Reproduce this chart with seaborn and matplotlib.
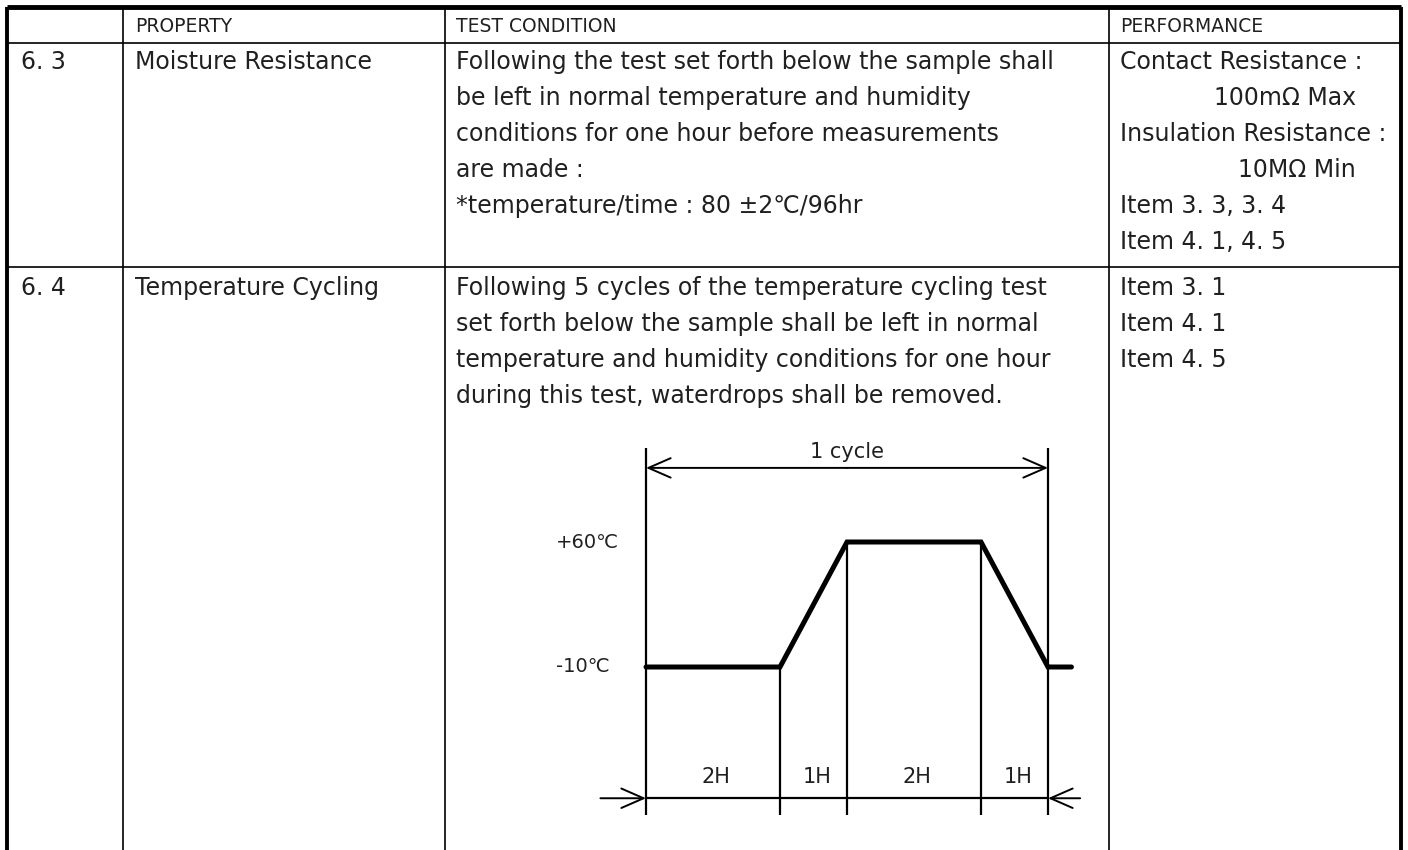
import matplotlib
matplotlib.use("Agg")
import matplotlib.pyplot as plt
import numpy as np
import pandas as pd
import seaborn as sns

# table content
header = ["", "PROPERTY", "TEST CONDITION", "PERFORMANCE"]
row_ids = ["6. 3", "6. 4"]
properties = ["Moisture Resistance", "Temperature Cycling"]
conditions_63 = [
    "Following the test set forth below the sample shall",
    "be left in normal temperature and humidity",
    "conditions for one hour before measurements",
    "are made :",
    "*temperature/time : 80 \u00b12\u2103/96hr",
]
performance_63 = [
    "Contact Resistance :",
    "100m\u03a9 Max",
    "Insulation Resistance :",
    "10M\u03a9 Min",
    "Item 3. 3, 3. 4",
    "Item 4. 1, 4. 5",
]
performance_63_indent = [False, True, False, True, False, False]
conditions_64 = [
    "Following 5 cycles of the temperature cycling test",
    "set forth below the sample shall be left in normal",
    "temperature and humidity conditions for one hour",
    "during this test, waterdrops shall be removed.",
]
performance_64 = ["Item 3. 1", "Item 4. 1", "Item 4. 5"]

# temperature cycle profile
phase_hours = [2, 1, 2, 1]
phase_labels = ["2H", "1H", "2H", "1H"]
low_temp = -10
high_temp = 60
phase_temps = [low_temp, high_temp, high_temp, low_temp]  # temperature at end of each phase
tail_hours = 0.35
temp_labels = ["+60\u2103", "-10\u2103"]
cycle_label = "1 cycle"

W, H = 1408, 850
FONT = 17
TXT = "#202020"

sns.set_theme(style="white")
plt.rcParams["font.family"] = ["DejaVu Sans"]

fig = plt.figure(figsize=(W / 100, H / 100), dpi=100)
ax = fig.add_axes([0, 0, 1, 1])
ax.set_xlim(0, W)
ax.set_ylim(H, 0)
ax.axis("off")

# table grid (pixel layout)
x_left, x_right = 7, 1401
col_x = [123, 445, 1109]
y_top, y_head, y_row = 7, 43, 267
ax.hlines(y_top, x_left, x_right, color="black", lw=3.5)
ax.vlines([x_left, x_right], y_top, H, color="black", lw=2.8)
ax.vlines(col_x, y_top, H, color="black", lw=1.2)
ax.hlines([y_head, y_row], x_left, x_right, color="black", lw=1.2)

text_x = [21, 135, 456, 1120]
for x, h in zip(text_x, header):
    ax.text(x, 26, h, fontsize=13.5, color=TXT, va="center", ha="left")

line_h = 36
first63 = 62
first64 = y_row + 21
ax.text(text_x[0], first63, row_ids[0], fontsize=FONT, color=TXT, va="center")
ax.text(text_x[1], first63, properties[0], fontsize=FONT, color=TXT, va="center")
for i, s in enumerate(conditions_63):
    ax.text(text_x[2], first63 + i * line_h, s, fontsize=FONT, color=TXT, va="center")
for i, (s, ind) in enumerate(zip(performance_63, performance_63_indent)):
    ax.text(1356 if ind else text_x[3], first63 + i * line_h, s, fontsize=FONT,
            color=TXT, va="center", ha="right" if ind else "left")

ax.text(text_x[0], first64, row_ids[1], fontsize=FONT, color=TXT, va="center")
ax.text(text_x[1], first64, properties[1], fontsize=FONT, color=TXT, va="center")
for i, s in enumerate(conditions_64):
    ax.text(text_x[2], first64 + i * line_h, s, fontsize=FONT, color=TXT, va="center")
for i, s in enumerate(performance_64):
    ax.text(text_x[3], first64 + i * line_h, s, fontsize=FONT, color=TXT, va="center")

# cycle diagram in hours / degC
ox, oy = 646, 667            # pixel position of (0 h, -10 C)
px_h = 67.0                  # pixels per hour
px_c = 125.0 / (high_temp - low_temp)
bx0, bx1, by0, by1 = 540, 1100, 430, 830
dax = fig.add_axes([bx0 / W, 1 - by1 / H, (bx1 - bx0) / W, (by1 - by0) / H])
dax.set_xlim((bx0 - ox) / px_h, (bx1 - ox) / px_h)
dax.set_ylim(low_temp - (by1 - oy) / px_c, low_temp + (oy - by0) / px_c)
dax.axis("off")
dax.patch.set_alpha(0)

bounds = np.concatenate([[0], np.cumsum(phase_hours)])
t = list(bounds) + [bounds[-1] + tail_hours]
temps = [low_temp] + phase_temps + [low_temp]
prof = pd.DataFrame({"hour": t, "temp": temps})
sns.lineplot(data=prof, x="hour", y="temp", sort=False, color="black",
             lw=3.6, ax=dax, solid_joinstyle="miter")

y_top_dim = 112.5
y_bot = -93
y_cycle = 101.5
y_dim = -83.5
starts = [low_temp] + phase_temps
for i, b in enumerate(bounds):
    top = y_top_dim if i in (0, len(bounds) - 1) else starts[i]
    dax.vlines(b, y_bot, top, color="black", lw=1.6)

arrow = dict(arrowstyle="->,head_length=0.8,head_width=0.35", color="black",
             lw=1.4, shrinkA=0, shrinkB=0, mutation_scale=20)
mid_cycle = np.mean(bounds[[0, -1]])
dax.annotate("", xy=(bounds[0], y_cycle), xytext=(mid_cycle, y_cycle), arrowprops=arrow)
dax.annotate("", xy=(bounds[-1], y_cycle), xytext=(mid_cycle, y_cycle), arrowprops=arrow)
dax.text(mid_cycle, y_cycle + 9, cycle_label, fontsize=FONT - 2,
         color=TXT, ha="center", va="center")

dax.hlines(y_dim, bounds[0], bounds[-1], color="black", lw=1.6)
dax.annotate("", xy=(bounds[0], y_dim), xytext=(bounds[0] - 0.68, y_dim), arrowprops=arrow)
dax.annotate("", xy=(bounds[-1], y_dim), xytext=(bounds[-1] + 0.48, y_dim), arrowprops=arrow)

for i, lab in enumerate(phase_labels):
    mid = (bounds[i] + bounds[i + 1]) / 2 + 0.05
    dax.text(mid, -71.5, lab, fontsize=FONT - 2, color=TXT, ha="center", va="center")

dax.text(-0.88, high_temp, temp_labels[0], fontsize=FONT - 3, color=TXT, ha="center", va="center")
dax.text(-0.94, low_temp, temp_labels[1], fontsize=FONT - 3, color=TXT, ha="center", va="center")

fig.savefig("out.png", dpi=100)
